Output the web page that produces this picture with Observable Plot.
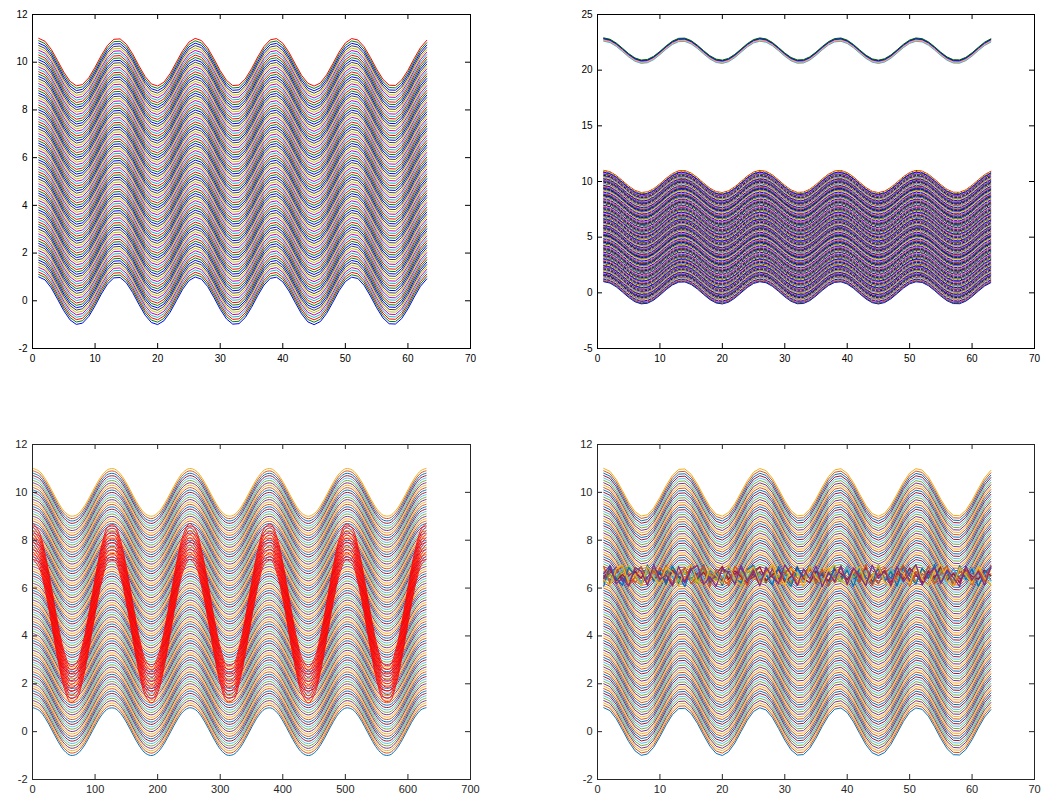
<!DOCTYPE html>
<html><head><meta charset="utf-8">
<script src="https://cdn.jsdelivr.net/npm/d3@7"></script>
<script src="https://cdn.jsdelivr.net/npm/@observablehq/plot@0.6"></script>
<style>
body{margin:0;background:#fff;}
#fig{position:relative;width:1043px;height:803px;overflow:hidden;}
.p{position:absolute;}
</style>
</head><body><div id="fig"></div>
<script>
// ---- data ----
const xIdx = [1,2,3,4,5,6,7,8,9,10,11,12,13,14,15,16,17,18,19,20,21,22,23,24,25,26,27,28,29,30,31,32,33,34,35,36,37,38,39,40,41,42,43,44,45,46,47,48,49,50,51,52,53,54,55,56,57,58,59,60,61,62,63];
const xLong = [1,11,21,31,41,51,61,71,81,91,101,111,121,131,141,151,161,171,181,191,201,211,221,231,241,251,261,271,281,291,301,311,321,331,341,351,361,371,381,391,401,411,421,431,441,451,461,471,481,491,501,511,521,531,541,551,561,571,581,591,601,611,621,629];
const baseWave = [1.000,0.878,0.540,0.071,-0.416,-0.801,-0.990,-0.936,-0.654,-0.211,
  0.284,0.709,0.960,0.977,0.754,0.347,-0.146,-0.602,-0.911,-0.997,
  -0.839,-0.476,0.004,0.483,0.844,0.998,0.907,0.595,0.137,-0.355,
  -0.760,-0.979,-0.958,-0.703,-0.275,0.220,0.660,0.939,0.989,0.796,
  0.408,-0.080,-0.548,-0.883,-1.000,-0.873,-0.533,-0.063,0.424,0.806,
  0.991,0.933,0.647,0.202,-0.292,-0.715,-0.963,-0.975,-0.748,-0.339,
  0.154,0.609,0.915];
const baseWaveLong = [...baseWave, 1.000];
const offsets = [0,0.1,0.2,0.3,0.4,0.5,0.6,0.7,0.8,0.9,
  1,1.1,1.2,1.3,1.4,1.5,1.6,1.7,1.8,1.9,
  2,2.1,2.2,2.3,2.4,2.5,2.6,2.7,2.8,2.9,
  3,3.1,3.2,3.3,3.4,3.5,3.6,3.7,3.8,3.9,
  4,4.1,4.2,4.3,4.4,4.5,4.6,4.7,4.8,4.9,
  5,5.1,5.2,5.3,5.4,5.5,5.6,5.7,5.8,5.9,
  6,6.1,6.2,6.3,6.4,6.5,6.6,6.7,6.8,6.9,
  7,7.1,7.2,7.3,7.4,7.5,7.6,7.7,7.8,7.9,
  8,8.1,8.2,8.3,8.4,8.5,8.6,8.7,8.8,8.9,
  9,9.1,9.2,9.3,9.4,9.5,9.6,9.7,9.8,9.9,10];
const dashShift = 0.05;
const upperOffsets = [21.6,21.65,21.7,21.75,21.8,21.85,21.9];
const redOffsets = [4.2,4.35,4.5,4.65,4.8,4.95,5.1,5.25,5.4,5.55,5.7];
const redAmp = 3;
const noise1 = [6.52,6.31,6.78,6.44,6.20,6.66,6.89,6.35,6.58,6.27,6.71,6.48,6.19,6.83,6.40,6.62,6.25,6.74,6.51,6.33,6.87,6.42,6.22,6.69,6.56,6.30,6.80,6.47,6.24,6.65,6.38,6.91,6.29,6.55,6.72,6.21,6.60,6.45,6.84,6.34,6.57,6.26,6.76,6.49,6.18,6.68,6.41,6.86,6.32,6.63,6.23,6.79,6.53,6.37,6.90,6.28,6.61,6.46,6.73,6.20,6.67,6.39,6.82];
const noise2 = [6.29,6.74,6.41,6.88,6.57,6.23,6.46,6.70,6.32,6.85,6.54,6.21,6.67,6.38,6.92,6.50,6.27,6.61,6.43,6.79,6.25,6.58,6.36,6.81,6.47,6.19,6.73,6.56,6.30,6.64,6.89,6.42,6.24,6.77,6.51,6.35,6.68,6.22,6.59,6.84,6.40,6.28,6.72,6.53,6.20,6.63,6.87,6.34,6.49,6.76,6.26,6.60,6.44,6.83,6.31,6.55,6.21,6.70,6.48,6.86,6.37,6.62,6.33];
const noise3 = [6.81,6.47,6.22,6.60,6.35,6.90,6.53,6.28,6.75,6.42,6.18,6.64,6.86,6.39,6.56,6.24,6.71,6.49,6.30,6.83,6.61,6.26,6.45,6.78,6.37,6.59,6.21,6.69,6.88,6.33,6.52,6.27,6.74,6.43,6.19,6.66,6.85,6.31,6.57,6.23,6.80,6.46,6.62,6.29,6.91,6.50,6.25,6.70,6.38,6.58,6.20,6.77,6.44,6.65,6.32,6.87,6.54,6.22,6.68,6.41,6.84,6.28,6.59];
const noise4 = [6.40,6.63,6.86,6.27,6.51,6.73,6.20,6.45,6.82,6.59,6.31,6.69,6.43,6.22,6.77,6.54,6.89,6.36,6.48,6.25,6.70,6.58,6.84,6.29,6.46,6.67,6.23,6.80,6.39,6.55,6.20,6.72,6.49,6.87,6.33,6.61,6.28,6.76,6.44,6.91,6.35,6.64,6.21,6.53,6.79,6.42,6.26,6.68,6.85,6.30,6.57,6.19,6.74,6.47,6.62,6.24,6.81,6.38,6.56,6.27,6.71,6.45,6.88];
const noise5 = [6.24,6.58,6.36,6.71,6.90,6.44,6.26,6.62,6.79,6.33,6.50,6.87,6.29,6.66,6.41,6.20,6.75,6.56,6.34,6.83,6.47,6.22,6.69,6.39,6.86,6.53,6.28,6.63,6.45,6.78,6.21,6.59,6.37,6.84,6.52,6.30,6.70,6.48,6.25,6.81,6.43,6.67,6.19,6.55,6.88,6.35,6.73,6.50,6.27,6.64,6.92,6.40,6.57,6.23,6.76,6.46,6.31,6.85,6.60,6.36,6.72,6.26,6.54];
const noise6 = [6.67,6.26,6.49,6.84,6.38,6.61,6.21,6.77,6.55,6.30,6.88,6.42,6.65,6.27,6.52,6.80,6.35,6.23,6.71,6.46,6.90,6.32,6.59,6.24,6.76,6.43,6.63,6.20,6.85,6.50,6.37,6.73,6.28,6.57,6.82,6.40,6.22,6.68,6.53,6.89,6.31,6.47,6.74,6.25,6.60,6.36,6.83,6.44,6.21,6.70,6.58,6.29,6.87,6.41,6.64,6.19,6.78,6.51,6.34,6.86,6.45,6.69,6.30];
const noise7 = [6.45,6.82,6.30,6.57,6.23,6.69,6.41,6.86,6.34,6.62,6.20,6.75,6.50,6.28,6.83,6.39,6.66,6.24,6.58,6.91,6.36,6.72,6.47,6.21,6.64,6.88,6.31,6.55,6.78,6.26,6.48,6.85,6.40,6.22,6.70,6.53,6.29,6.81,6.60,6.35,6.76,6.44,6.87,6.27,6.51,6.73,6.20,6.63,6.38,6.84,6.56,6.25,6.68,6.42,6.89,6.33,6.61,6.22,6.79,6.49,6.37,6.74,6.52];
const noise8 = [6.08,6.95,6.40,6.12,6.85,6.55,6.10,6.97,6.30,6.70,6.15,6.92,6.48,6.06,6.80,6.35,6.98,6.20,6.62,6.11,6.88,6.44,6.09,6.76,6.95,6.26,6.58,6.13,6.90,6.38,6.07,6.82,6.50,6.96,6.18,6.66,6.10,6.93,6.34,6.74,6.08,6.86,6.45,6.14,6.97,6.29,6.68,6.09,6.91,6.52,6.16,6.84,6.40,6.98,6.22,6.70,6.12,6.94,6.36,6.80,6.07,6.64,6.90];
const noise9 = [6.90,6.20,6.65,6.98,6.10,6.45,6.88,6.14,6.72,6.30,6.96,6.08,6.60,6.85,6.18,6.50,6.94,6.06,6.78,6.40,6.12,6.92,6.55,6.09,6.84,6.25,6.70,6.97,6.15,6.62,6.88,6.11,6.46,6.95,6.20,6.80,6.08,6.58,6.90,6.16,6.74,6.36,6.98,6.10,6.64,6.86,6.13,6.52,6.96,6.07,6.70,6.32,6.92,6.18,6.60,6.94,6.09,6.48,6.84,6.14,6.76,6.28,6.95];
const noise10 = [6.35,6.12,6.80,6.96,6.22,6.58,6.09,6.90,6.44,6.15,6.86,6.66,6.07,6.75,6.97,6.30,6.11,6.84,6.52,6.20,6.94,6.40,6.08,6.70,6.88,6.17,6.56,6.98,6.26,6.13,6.82,6.62,6.06,6.92,6.45,6.19,6.78,6.96,6.34,6.10,6.68,6.89,6.14,6.50,6.95,6.24,6.08,6.80,6.60,6.16,6.93,6.38,6.11,6.74,6.97,6.28,6.09,6.86,6.54,6.21,6.91,6.42,6.13];
const noise11 = [6.60,6.94,6.18,6.42,6.08,6.86,6.70,6.12,6.98,6.36,6.55,6.10,6.90,6.24,6.78,6.95,6.14,6.48,6.07,6.82,6.64,6.16,6.96,6.32,6.74,6.09,6.88,6.46,6.20,6.97,6.58,6.11,6.80,6.38,6.92,6.06,6.66,6.28,6.94,6.15,6.84,6.50,6.10,6.96,6.40,6.72,6.08,6.90,6.26,6.62,6.98,6.13,6.56,6.85,6.19,6.76,6.44,6.07,6.93,6.34,6.70,6.12,6.88];
const noiseLines = [noise1,noise2,noise3,noise4,noise5,noise6,noise7,noise8,noise9,noise10,noise11];

const xTicks = [0,10,20,30,40,50,60,70];
const xTicksLong = [0,100,200,300,400,500,600,700];
const yTicks = [-2,0,2,4,6,8,10,12];
const yTicksWide = [-5,0,5,10,15,20,25];

const oldColors = ["#0000FF","#008000","#FF0000","#00BFBF","#BF00BF","#BFBF00","#404040"];
const newColors = ["#0072BD","#D95319","#EDB120","#7E2F8E","#77AC30","#4DBEEE","#A2142F"];
const dashColors = ["#404040","#FF55CC","#0000FF","#E8E030","#808080","#0000A0"];
const upperColors = ["#00DDDD","#FF55CC","#E8D000","#FF80C0","#2040FF","#0000B0","#006400"];
const redColor = "#FF0000";

// ---- helpers ----
function series(xs, ys, off, amp = 1) {
  return xs.map((x, i) => ({x, y: amp * ys[i] + off}));
}
const FONT = "'Liberation Sans', Arial, Helvetica, sans-serif";

function panel({left, top, width, height, mL, mR, mT, mB, xDomain, yDomain, xt, yt, marks, fontSize, textColor, axisColor}) {
  const fw = width - mL - mR, fh = height - mT - mB;
  const tickLen = 5;
  const chart = Plot.plot({
    width, height,
    marginLeft: mL, marginRight: mR, marginTop: mT, marginBottom: mB,
    x: {domain: xDomain, label: null},
    y: {domain: yDomain, label: null},
    style: {fontFamily: FONT, fontSize: fontSize + "px", background: "transparent", overflow: "visible"},
    marks: [
      ...marks,
      Plot.tickX(xt, {x: d => d, insetTop: fh - tickLen, stroke: axisColor, strokeWidth: 1}),
      Plot.tickX(xt, {x: d => d, insetBottom: fh - tickLen, stroke: axisColor, strokeWidth: 1}),
      Plot.tickY(yt, {y: d => d, insetRight: fw - tickLen, stroke: axisColor, strokeWidth: 1}),
      Plot.tickY(yt, {y: d => d, insetLeft: fw - tickLen, stroke: axisColor, strokeWidth: 1}),
      Plot.frame({stroke: axisColor, strokeWidth: 1}),
      Plot.axisX({ticks: xt, anchor: "bottom", label: null, tickSize: 0, tickPadding: 6, tickFormat: d => String(d), fill: textColor, fontSize}),
      Plot.axisY({ticks: yt, anchor: "left", label: null, tickSize: 0, tickPadding: 5, tickFormat: d => String(d), fill: textColor, fontSize})
    ]
  });
  const div = document.createElement("div");
  div.className = "p";
  div.style.left = left + "px";
  div.style.top = top + "px";
  div.appendChild(chart);
  document.getElementById("fig").appendChild(div);
}

// ---- top-left ----
panel({
  left: 0, top: 0, width: 521, height: 400, mL: 32, mR: 51, mT: 14, mB: 52,
  xDomain: [0, 70], yDomain: [-2, 12], xt: xTicks, yt: yTicks,
  fontSize: 10, textColor: "#000", axisColor: "#000",
  marks: offsets.map((o, k) => Plot.line(series(xIdx, baseWave, o), {x: "x", y: "y", stroke: oldColors[k % 7], strokeWidth: 1}))
});

// ---- top-right ----
panel({
  left: 521, top: 0, width: 522, height: 400, mL: 76, mR: 9, mT: 14, mB: 52,
  xDomain: [0, 70], yDomain: [-5, 25], xt: xTicks, yt: yTicksWide,
  fontSize: 10, textColor: "#000", axisColor: "#000",
  marks: [
    ...offsets.map((o, k) => Plot.line(series(xIdx, baseWave, o), {x: "x", y: "y", stroke: oldColors[k % 7], strokeWidth: 1})),
    ...offsets.slice(0, -1).map((o, k) => Plot.line(series(xIdx, baseWave, o + dashShift), {x: "x", y: "y", stroke: dashColors[k % 6], strokeWidth: 1, strokeDasharray: "2,2"})),
    ...upperOffsets.map((o, k) => Plot.line(series(xIdx, baseWave, o), {x: "x", y: "y", stroke: upperColors[k], strokeWidth: 1}))
  ]
});

// ---- bottom-left ----
panel({
  left: 0, top: 400, width: 521, height: 403, mL: 32, mR: 51, mT: 44, mB: 24,
  xDomain: [0, 700], yDomain: [-2, 12], xt: xTicksLong, yt: yTicks,
  fontSize: 11, textColor: "#262626", axisColor: "#262626",
  marks: [
    ...offsets.map((o, k) => Plot.line(series(xLong, baseWaveLong, o), {x: "x", y: "y", stroke: newColors[k % 7], strokeWidth: 1, curve: "catmull-rom"})),
    ...redOffsets.map(o => Plot.line(series(xLong, baseWaveLong, o, redAmp), {x: "x", y: "y", stroke: redColor, strokeWidth: 0.9, curve: "catmull-rom"}))
  ]
});

// ---- bottom-right ----
panel({
  left: 521, top: 400, width: 522, height: 403, mL: 76, mR: 9, mT: 44, mB: 24,
  xDomain: [0, 70], yDomain: [-2, 12], xt: xTicks, yt: yTicks,
  fontSize: 11, textColor: "#262626", axisColor: "#262626",
  marks: [
    ...offsets.map((o, k) => Plot.line(series(xIdx, baseWave, o), {x: "x", y: "y", stroke: newColors[k % 7], strokeWidth: 1})),
    ...noiseLines.map((n, k) => Plot.line(series(xIdx, n, 0), {x: "x", y: "y", stroke: newColors[k % 7], strokeWidth: 1.3}))
  ]
});
</script>
</body></html>
